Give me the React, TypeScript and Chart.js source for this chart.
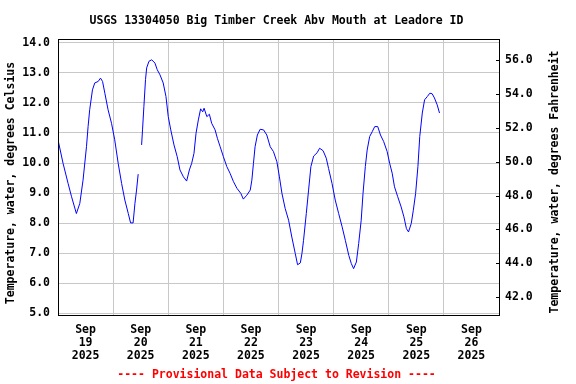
import { useEffect, useRef } from "react";
import { Chart, registerables } from "chart.js";

Chart.register(...registerables);

const TITLE = "USGS 13304050 Big Timber Creek Abv Mouth at Leadore ID";
const Y_TITLE_LEFT = "Temperature, water, degrees Celsius";
const Y_TITLE_RIGHT = "Temperature, water, degrees Fahrenheit";
const FOOTNOTE = "---- Provisional Data Subject to Revision ----";

const DAY_MONTH = "Sep";
const DAY_NUMBERS = ["19", "20", "21", "22", "23", "24", "25", "26"];
const DAY_YEAR = "2025";
const DAY_BOUNDS = [0, 24, 48, 72, 96, 120, 144, 168, 192];
const DAY_MIDDLES = [12, 36, 60, 84, 108, 132, 156, 180];
const CELSIUS_TICKS = [5, 6, 7, 8, 9, 10, 11, 12, 13, 14];
const FAHRENHEIT_TICKS = [42, 44, 46, 48, 50, 52, 54, 56];

// hours since 2025-09-19 00:00
const HOURS = [
  0, 2.2, 4.4, 5.9, 8.0, 9.5, 10.9, 12.4, 13.1, 13.8, 15.0, 16.0, 17.5, 18.5, 19.4, 20.4, 21.8, 23.3,
  24.7, 26.2, 27.7, 29.1, 30.6, 31.6, 32.7, 33.5, 34.2, 34.9, 35.6, 36.4, 36.8, 37.4, 38.1, 38.6, 39.6,
  40.8, 42.2, 43.2, 44.4, 45.8, 47.0, 48.0, 49.1, 50.5, 51.9, 53.1, 54.6, 56.0, 57.2, 58.2, 59.2, 60.1,
  61.1, 62.1, 63.0, 63.6, 64.8, 65.9, 66.9, 68.4, 69.4, 70.6, 72.0, 73.5, 74.9, 76.4, 77.9, 79.6, 80.7,
  82.2, 83.7, 84.4, 85.1, 85.8, 86.8, 88.0, 89.5, 90.9, 92.4, 93.8, 95.3, 96.4, 97.5, 98.9, 100.4, 101.8,
  103.3, 104.3, 105.5, 106.2, 106.9, 108.1, 109.1, 110.1, 111.3, 112.8, 113.9, 115.4, 116.8, 117.8,
  119.3, 120.7, 122.2, 123.7, 125.1, 126.6, 127.7, 128.7, 129.9, 130.9, 132.0, 132.8, 133.8, 134.6,
  135.7, 136.8, 137.9, 139.2, 140.4, 141.8, 143.3, 144.4, 145.5, 146.5, 147.9, 149.4, 150.6, 151.7,
  152.6, 153.8, 154.7, 155.7, 156.7, 157.5, 158.6, 159.6, 160.8, 161.9, 162.9, 163.9, 165.1, 166.1,
];

const TEMP_C: (number | null)[] = [
  10.77, 9.99, 9.32, 8.88, 8.32, 8.66, 9.43, 10.54, 11.21, 11.77, 12.43, 12.66, 12.71, 12.82, 12.71, 12.32, 11.77, 11.32,
  10.77, 9.99, 9.32, 8.77, 8.32, 8.01, 8.01, 8.66, 9.1, 9.63, null, 10.6, 11.1, 11.88, 12.77, 13.16, 13.38,
  13.43, 13.32, 13.1, 12.93, 12.66, 12.21, 11.54, 11.1, 10.6, 10.21, 9.77, 9.54, 9.4, 9.77, 9.99, 10.32, 10.99,
  11.43, 11.8, 11.7, 11.82, 11.54, 11.62, 11.32, 11.1, 10.82, 10.54, 10.21, 9.88, 9.66, 9.38, 9.16, 8.99, 8.8,
  8.93, 9.1, 9.43, 9.99, 10.54, 10.93, 11.12, 11.1, 10.93, 10.54, 10.38, 10.04, 9.54, 8.99, 8.49, 8.1, 7.54,
  6.99, 6.62, 6.68, 6.99, 7.43, 8.32, 9.1, 9.88, 10.23, 10.34, 10.49, 10.41, 10.16, 9.82,
  9.32, 8.77, 8.32, 7.88, 7.43, 6.93, 6.66, 6.49, 6.71, 7.32, 8.1, 8.99, 9.88, 10.43,
  10.88, 11.04, 11.21, 11.21, 10.93, 10.71, 10.38, 9.99, 9.66, 9.21, 8.88, 8.54, 8.21, 7.82,
  7.71, 7.99, 8.43, 8.99, 9.88, 10.88, 11.66, 12.1, 12.21, 12.32, 12.3, 12.16, 11.93, 11.66,
];

const FONT_FAMILY = "'DejaVu Sans Mono', 'Liberation Mono', monospace";
const FONT_SIZE = 11.5;
const GRID_COLOR = "#c8c8c8";
const LINE_COLOR = "#0000ff";

const decorPlugin = {
  id: "decor",
  afterDraw(chart: any) {
    const { ctx, chartArea: a } = chart;
    ctx.save();
    ctx.strokeStyle = "#000000";
    ctx.lineWidth = 1;
    ctx.strokeRect(a.left + 0.5, a.top + 0.5, a.right - a.left, a.bottom - a.top);

    const y2 = chart.scales.y2;
    y2.ticks.forEach((t: any) => {
      const py = Math.round(y2.getPixelForValue(t.value)) + 0.5;
      ctx.beginPath();
      ctx.moveTo(a.right - 3, py);
      ctx.lineTo(a.right, py);
      ctx.stroke();
    });

    const font = `bold ${FONT_SIZE}px ${FONT_FAMILY}`;
    ctx.font = font;
    ctx.fillStyle = "#000000";
    ctx.textAlign = "center";
    ctx.textBaseline = "alphabetic";
    const cx = (a.left + a.right) / 2 - 2;
    ctx.fillText(TITLE, cx, 24);

    ctx.textBaseline = "middle";
    ctx.save();
    ctx.translate(11.5, 183);
    ctx.rotate(-Math.PI / 2);
    ctx.fillText(Y_TITLE_LEFT, 0, 0);
    ctx.restore();

    ctx.save();
    ctx.translate(555.5, 182);
    ctx.rotate(-Math.PI / 2);
    ctx.fillText(Y_TITLE_RIGHT, 0, 0);
    ctx.restore();

    ctx.fillStyle = "#ff0000";
    ctx.textBaseline = "alphabetic";
    ctx.fillText(FOOTNOTE, cx, 378);
    ctx.restore();
  },
};

export default function App() {
  const canvasRef = useRef<HTMLCanvasElement | null>(null);

  useEffect(() => {
    const canvas = canvasRef.current;
    if (!canvas) return;
    const tickFont = { family: FONT_FAMILY, size: FONT_SIZE, weight: "bold" as const, lineHeight: 1.1 };
    const chart = new Chart(canvas, {
      type: "line",
      data: {
        datasets: [
          {
            data: HOURS.map((h, i) => ({ x: h, y: TEMP_C[i] as any })),
            borderColor: LINE_COLOR,
            borderWidth: 1,
            pointRadius: 0,
            tension: 0,
            spanGaps: false,
            xAxisID: "x",
            yAxisID: "y",
          },
        ],
      },
      options: {
        animation: false,
        responsive: false,
        devicePixelRatio: 1,
        layout: { padding: { top: 39, left: 0, right: 0, bottom: 0 } },
        plugins: { legend: { display: false }, tooltip: { enabled: false }, title: { display: false } },
        scales: {
          x: {
            type: "linear",
            position: "bottom",
            min: 0,
            max: 192,
            afterBuildTicks: (s: any) => {
              s.ticks = DAY_BOUNDS.map((v) => ({ value: v }));
            },
            afterFit: (s: any) => {
              s.height = 0;
            },
            grid: { color: GRID_COLOR, drawTicks: false, lineWidth: 1 },
            border: { display: false },
            ticks: { display: false },
          },
          x2: {
            type: "linear",
            position: "bottom",
            min: 0,
            max: 192,
            afterBuildTicks: (s: any) => {
              s.ticks = DAY_MIDDLES.map((v) => ({ value: v }));
            },
            afterFit: (s: any) => {
              s.height = 69;
            },
            grid: { display: false, drawTicks: false },
            border: { display: false },
            ticks: {
              color: "#000000",
              font: tickFont,
              padding: 9,
              maxRotation: 0,
              autoSkip: false,
              callback: (_v: any, i: number) => [DAY_MONTH, DAY_NUMBERS[i], DAY_YEAR],
            },
          },
          y: {
            type: "linear",
            position: "left",
            min: 4.95,
            max: 14.12,
            afterBuildTicks: (s: any) => {
              s.ticks = CELSIUS_TICKS.map((v) => ({ value: v }));
            },
            afterFit: (s: any) => {
              s.width = 58;
            },
            grid: { color: GRID_COLOR, drawTicks: false, lineWidth: 1 },
            border: { display: false },
            ticks: {
              color: "#000000",
              font: tickFont,
              padding: 8,
              callback: (v: any) => Number(v).toFixed(1),
            },
          },
          y2: {
            type: "linear",
            position: "right",
            min: 40.95,
            max: 57.25,
            afterBuildTicks: (s: any) => {
              s.ticks = FAHRENHEIT_TICKS.map((v) => ({ value: v }));
            },
            afterFit: (s: any) => {
              s.width = 77;
            },
            grid: { display: false, drawTicks: false },
            border: { display: false },
            ticks: {
              color: "#000000",
              font: tickFont,
              padding: 6,
              callback: (v: any) => Number(v).toFixed(1),
            },
          },
        },
      } as any,
      plugins: [decorPlugin],
    });
    return () => chart.destroy();
  }, []);

  return (
    <div style={{ position: "fixed", left: 0, top: 0, width: 576, height: 384, background: "#ffffff" }}>
      <canvas ref={canvasRef} width={576} height={384} style={{ display: "block" }} />
    </div>
  );
}
